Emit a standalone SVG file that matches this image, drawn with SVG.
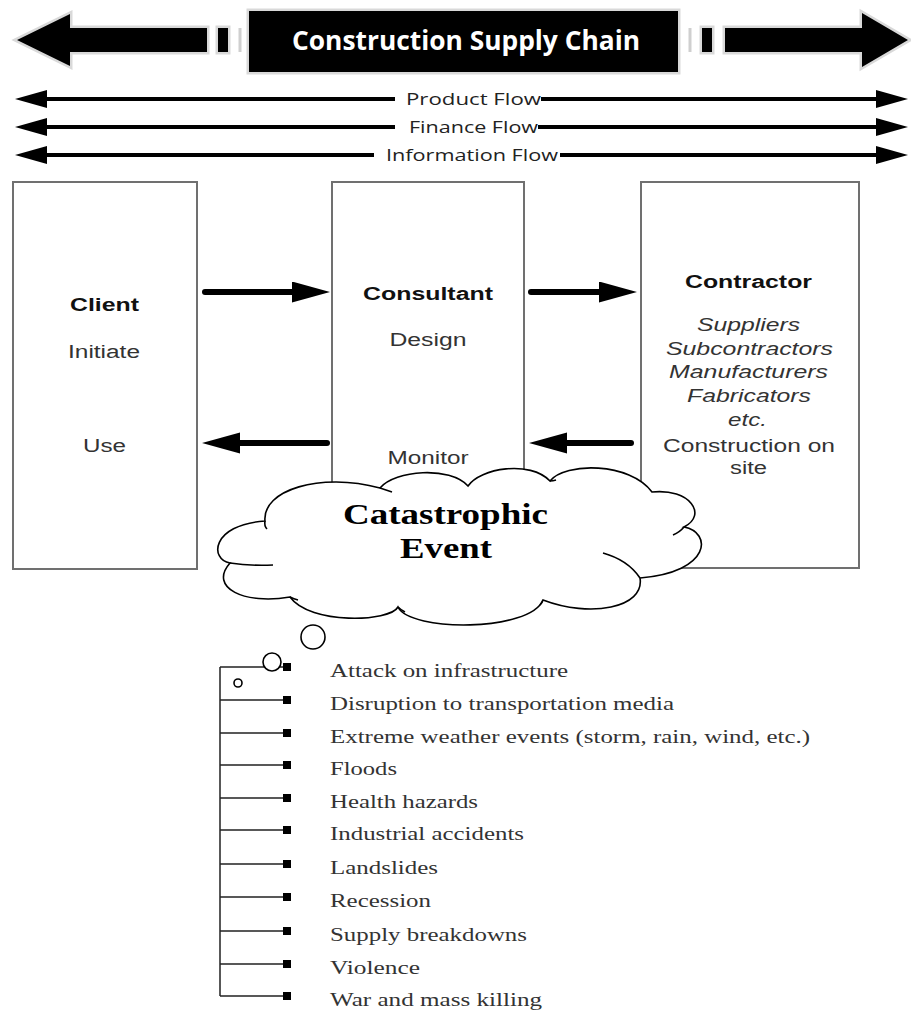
<svg xmlns="http://www.w3.org/2000/svg" width="911" height="1010" viewBox="0 0 911 1010">
<style>
.bev{fill:#000;stroke:#d9d9d9;stroke-width:5;paint-order:stroke fill;stroke-linejoin:miter}
.flow{stroke:#000;stroke-width:4;fill:none}
.lbl{font-family:"Open Sans","Liberation Sans",sans-serif;font-size:16px;fill:#222;text-anchor:middle}
.box{fill:#fff;stroke:#707070;stroke-width:2}
.conn{stroke:#000;stroke-width:6;stroke-linecap:round;fill:none}
.bt{font-family:"Liberation Sans",Arial,sans-serif;font-size:18px;fill:#333;text-anchor:middle}
.b{font-weight:bold;fill:#111}
.i{font-style:italic}
.cloud{fill:#fff;stroke:#000;stroke-width:1.6}
.inner{fill:none;stroke:#000;stroke-width:1.6}
.ct{font-family:"Liberation Serif","Times New Roman",serif;font-weight:bold;font-size:30px;fill:#000;text-anchor:middle}
.tree{stroke:#222;stroke-width:1.5;fill:none}
.bul{fill:#000}
.li{font-family:"Liberation Serif","Times New Roman",serif;font-size:19px;fill:#333}
</style>
<defs>
<marker id="fh" markerUnits="userSpaceOnUse" markerWidth="34" markerHeight="20" refX="0" refY="9" orient="auto" viewBox="0 0 34 20">
<path d="M0,0 L32,9 L0,18 z" fill="#000"/>
</marker>
<marker id="bh" markerUnits="userSpaceOnUse" markerWidth="40" markerHeight="22" refX="0" refY="10.5" orient="auto" viewBox="0 0 40 22">
<path d="M0,0 L38,10.5 L0,21 z" fill="#000"/>
</marker>
</defs>

<g id="title">
<polygon class="bev" points="17,40 70,14 70,28 207,28 207,52 70,52 70,66"/>
<rect class="bev" x="218" y="28" width="10" height="24"/>
<line x1="240" y1="28" x2="240" y2="52" stroke="#cfcfcf" stroke-width="3"/>
<rect class="bev" x="249" y="11" width="429" height="61"/>
<line x1="690" y1="28" x2="690" y2="52" stroke="#cfcfcf" stroke-width="3"/>
<rect class="bev" x="702" y="28" width="10" height="24"/>
<polygon class="bev" points="725,28 862,28 862,13 908,40 862,67 862,52 725,52"/>
<text x="466" y="50" font-family="'Open Sans','Liberation Sans',sans-serif" font-weight="700" font-size="26" fill="#fff" text-anchor="middle" textLength="348" lengthAdjust="spacingAndGlyphs">Construction Supply Chain</text>
</g>

<g id="flows">
<line class="flow" x1="395" y1="99" x2="47" y2="99" marker-end="url(#fh)"/>
<line class="flow" x1="541" y1="99" x2="876" y2="99" marker-end="url(#fh)"/>
<text class="lbl" x="473.5" y="104.5" textLength="135" lengthAdjust="spacingAndGlyphs">Product Flow</text>
<line class="flow" x1="395" y1="127" x2="47" y2="127" marker-end="url(#fh)"/>
<line class="flow" x1="538" y1="127" x2="876" y2="127" marker-end="url(#fh)"/>
<text class="lbl" x="473.5" y="132.5" textLength="129" lengthAdjust="spacingAndGlyphs">Finance Flow</text>
<line class="flow" x1="374" y1="155" x2="47" y2="155" marker-end="url(#fh)"/>
<line class="flow" x1="560" y1="155" x2="876" y2="155" marker-end="url(#fh)"/>
<text class="lbl" x="472" y="160.5" textLength="172" lengthAdjust="spacingAndGlyphs">Information Flow</text>
</g>

<g id="client">
<rect class="box" x="13" y="182" width="184" height="387"/>
<text class="bt b" x="104.5" y="311" textLength="69" lengthAdjust="spacingAndGlyphs">Client</text>
<text class="bt" x="104" y="358" textLength="72" lengthAdjust="spacingAndGlyphs">Initiate</text>
<text class="bt" x="104.5" y="452" textLength="43" lengthAdjust="spacingAndGlyphs">Use</text>
</g>

<g id="consultant">
<rect class="box" x="332" y="182" width="192" height="387"/>
<text class="bt b" x="428" y="300" textLength="130" lengthAdjust="spacingAndGlyphs">Consultant</text>
<text class="bt" x="428" y="346" textLength="77" lengthAdjust="spacingAndGlyphs">Design</text>
<text class="bt" x="428" y="464" textLength="81" lengthAdjust="spacingAndGlyphs">Monitor</text>
</g>

<g id="contractor">
<rect class="box" x="641" y="182" width="218" height="386"/>
<text class="bt b" x="748.5" y="288" textLength="127" lengthAdjust="spacingAndGlyphs">Contractor</text>
<text class="bt i" x="748.5" y="331" textLength="103" lengthAdjust="spacingAndGlyphs">Suppliers</text>
<text class="bt i" x="749.5" y="355" textLength="167" lengthAdjust="spacingAndGlyphs">Subcontractors</text>
<text class="bt i" x="748.5" y="378" textLength="159" lengthAdjust="spacingAndGlyphs">Manufacturers</text>
<text class="bt i" x="749" y="402" textLength="124" lengthAdjust="spacingAndGlyphs">Fabricators</text>
<text class="bt i" x="747.5" y="426" textLength="39" lengthAdjust="spacingAndGlyphs">etc.</text>
<text class="bt" x="749" y="452" textLength="172" lengthAdjust="spacingAndGlyphs">Construction on</text>
<text class="bt" x="748.5" y="474" textLength="37" lengthAdjust="spacingAndGlyphs">site</text>
</g>

<g id="connectors">
<line class="conn" x1="205" y1="292" x2="292" y2="292" marker-end="url(#bh)"/>
<line class="conn" x1="531" y1="292" x2="599" y2="292" marker-end="url(#bh)"/>
<line class="conn" x1="631" y1="443" x2="567" y2="443" marker-end="url(#bh)"/>
<line class="conn" x1="327" y1="443" x2="240" y2="443" marker-end="url(#bh)"/>
</g>

<g id="cloud">
<path class="cloud" d="M230,563 C210,560 210,525 265,521 C262,490 320,472 380,488 C395,470 450,466 468,486 C480,468 530,460 550,481 C565,462 630,462 652,492 C690,488 708,515 684,527 C712,532 712,572 640,578 C645,608 590,618 543,600 C530,632 410,632 398,607 C390,622 310,625 290,597 C245,605 208,588 230,563 Z"/>
<path class="inner" d="M230,563 Q250,566 273,565"/>
<path class="inner" d="M265,521 Q264,526 267,529"/>
<path class="inner" d="M380,488 Q386,490 392,492"/>
<path class="inner" d="M550,481 Q553,481 556,480"/>
<path class="inner" d="M684,527 Q680,532 673,535"/>
<path class="inner" d="M640,578 Q628,560 603,553"/>
<path class="inner" d="M543,600 Q542,603 540,605"/>
<path class="inner" d="M398,607 Q401,610 405,612"/>
<path class="inner" d="M290,597 Q294,599 298,600"/>
<text class="ct" x="445.5" y="524" textLength="205" lengthAdjust="spacingAndGlyphs">Catastrophic</text>
<text class="ct" x="446" y="558" textLength="92" lengthAdjust="spacingAndGlyphs">Event</text>
</g>

<g id="events">
<path class="tree" d="M220,667 V996 M220,667 H284 M220,700 H284 M220,733 H284 M220,765 H284 M220,798 H284 M220,830 H284 M220,864 H284 M220,897 H284 M220,931 H284 M220,964 H284 M220,996 H284"/>
<rect class="bul" x="283" y="663" width="8" height="8"/>
<rect class="bul" x="283" y="696" width="8" height="8"/>
<rect class="bul" x="283" y="729" width="8" height="8"/>
<rect class="bul" x="283" y="761" width="8" height="8"/>
<rect class="bul" x="283" y="794" width="8" height="8"/>
<rect class="bul" x="283" y="826" width="8" height="8"/>
<rect class="bul" x="283" y="860" width="8" height="8"/>
<rect class="bul" x="283" y="893" width="8" height="8"/>
<rect class="bul" x="283" y="927" width="8" height="8"/>
<rect class="bul" x="283" y="960" width="8" height="8"/>
<rect class="bul" x="283" y="992" width="8" height="8"/>
<circle class="cloud" cx="313" cy="637" r="12"/>
<circle class="cloud" cx="272" cy="662" r="9"/>
<circle class="cloud" cx="238" cy="683" r="4"/>
<text class="li" x="330" y="677" textLength="238" lengthAdjust="spacingAndGlyphs">Attack on infrastructure</text>
<text class="li" x="330" y="710" textLength="344" lengthAdjust="spacingAndGlyphs">Disruption to transportation media</text>
<text class="li" x="330" y="743" textLength="480" lengthAdjust="spacingAndGlyphs">Extreme weather events (storm, rain, wind, etc.)</text>
<text class="li" x="330" y="775" textLength="67" lengthAdjust="spacingAndGlyphs">Floods</text>
<text class="li" x="330" y="808" textLength="148" lengthAdjust="spacingAndGlyphs">Health hazards</text>
<text class="li" x="330" y="840" textLength="194" lengthAdjust="spacingAndGlyphs">Industrial accidents</text>
<text class="li" x="330" y="874" textLength="108" lengthAdjust="spacingAndGlyphs">Landslides</text>
<text class="li" x="330" y="907" textLength="101" lengthAdjust="spacingAndGlyphs">Recession</text>
<text class="li" x="330" y="941" textLength="197" lengthAdjust="spacingAndGlyphs">Supply breakdowns</text>
<text class="li" x="330" y="974" textLength="90" lengthAdjust="spacingAndGlyphs">Violence</text>
<text class="li" x="330" y="1006" textLength="212" lengthAdjust="spacingAndGlyphs">War and mass killing</text>
</g>
</svg>
